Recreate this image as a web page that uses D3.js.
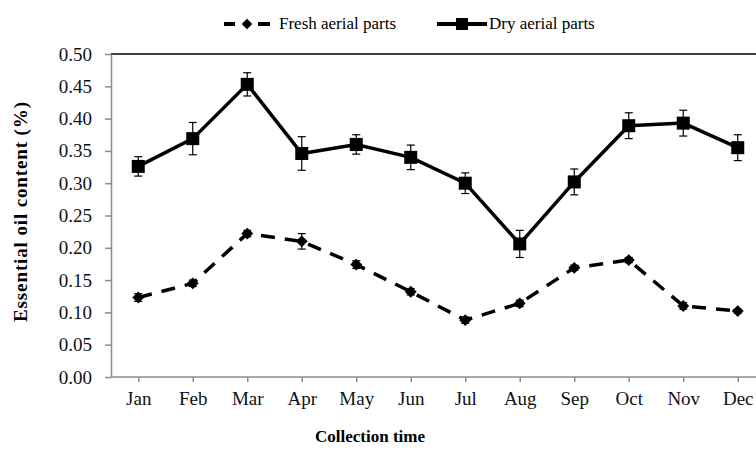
<!DOCTYPE html>
<html>
<head>
<meta charset="utf-8">
<script src="https://cdn.jsdelivr.net/npm/d3@7"></script>
<style>
  body { margin: 0; background: #fff; }
  svg text { font-family: "Liberation Serif", "DejaVu Serif", serif !important; }
</style>
</head>
<body>
<svg id="chart"></svg>
<script>
const months = ["Jan", "Feb", "Mar", "Apr", "May", "Jun", "Jul", "Aug", "Sep", "Oct", "Nov", "Dec"];
const freshValues = [0.123, 0.145, 0.222, 0.210, 0.174, 0.132, 0.088, 0.114, 0.169, 0.181, 0.110, 0.102];
const freshErrors = [0.006, 0.005, 0.005, 0.012, 0.006, 0.005, 0.005, 0.005, 0.004, 0.004, 0.005, 0.003];
const dryValues = [0.326, 0.369, 0.453, 0.346, 0.360, 0.340, 0.300, 0.206, 0.302, 0.389, 0.393, 0.355];
const dryErrors = [0.015, 0.025, 0.018, 0.026, 0.015, 0.019, 0.016, 0.021, 0.020, 0.020, 0.020, 0.020];
const yTicks = [0, 0.05, 0.10, 0.15, 0.20, 0.25, 0.30, 0.35, 0.40, 0.45, 0.50];

const width = 756;
const height = 471;
const margin = { top: 54, left: 111, bottom: 94, right: 0 };
const axisGray = "#8c8c8c";
const serif = "Liberation Serif";

const svg = d3.select("#chart")
    .attr("width", width)
    .attr("height", height);

const x = d3.scalePoint()
    .domain(months)
    .range([margin.left, margin.left + 12 * 54.5])
    .padding(0.5);

const y = d3.scaleLinear()
    .domain([0, 0.5])
    .range([height - margin.bottom, margin.top]);

// top border of plot area
svg.append("line")
    .attr("x1", margin.left).attr("x2", width)
    .attr("y1", y(0.5)).attr("y2", y(0.5))
    .attr("stroke", "#000")
    .attr("stroke-width", 1.5);

// y axis
const yAxis = svg.append("g")
    .attr("transform", "translate(" + margin.left + ",0)")
    .call(d3.axisLeft(y).tickValues(yTicks).tickFormat(d3.format(".2f")).tickSize(6).tickSizeOuter(0))
    .attr("font-family", serif);
yAxis.select(".domain").attr("stroke", axisGray).attr("stroke-width", 1.5);
yAxis.selectAll(".tick line").attr("stroke", axisGray).attr("stroke-width", 1.5);
yAxis.selectAll(".tick text")
    .attr("x", -19)
    .attr("fill", "#111")
    .attr("font-size", "19px");

// x axis
const xAxis = svg.append("g")
    .attr("transform", "translate(0," + y(0) + ")")
    .call(d3.axisBottom(x).tickSize(5).tickSizeOuter(0))
    .attr("font-family", serif);
xAxis.select(".domain")
    .attr("d", "M" + margin.left + ",0H" + width)
    .attr("stroke", axisGray).attr("stroke-width", 1.5);
xAxis.selectAll(".tick line").attr("stroke", axisGray).attr("stroke-width", 1.5);
xAxis.selectAll(".tick text")
    .attr("y", 15)
    .attr("fill", "#111")
    .attr("font-size", "19px");

// axis titles
svg.append("text")
    .attr("transform", "translate(27,212) rotate(-90)")
    .attr("text-anchor", "middle")
    .attr("font-family", serif)
    .attr("font-weight", "bold")
    .attr("font-size", "19px")
    .attr("textLength", 220)
    .attr("lengthAdjust", "spacing")
    .text("Essential oil content (%)");

svg.append("text")
    .attr("x", 370)
    .attr("y", 442)
    .attr("text-anchor", "middle")
    .attr("font-family", serif)
    .attr("font-weight", "bold")
    .attr("font-size", "17px")
    .text("Collection time");

// series
const line = d3.line()
    .x((d, i) => x(months[i]))
    .y(d => y(d));

function errorBars(values, errors) {
    const g = svg.append("g").attr("stroke", "#000").attr("stroke-width", 1.2);
    values.forEach((v, i) => {
        const cx = x(months[i]);
        const top = y(v + errors[i]);
        const bot = y(v - errors[i]);
        g.append("line").attr("x1", cx).attr("x2", cx).attr("y1", top).attr("y2", bot);
        g.append("line").attr("x1", cx - 4).attr("x2", cx + 4).attr("y1", top).attr("y2", top);
        g.append("line").attr("x1", cx - 4).attr("x2", cx + 4).attr("y1", bot).attr("y2", bot);
    });
}

errorBars(freshValues, freshErrors);
errorBars(dryValues, dryErrors);

svg.append("path")
    .datum(freshValues)
    .attr("d", line)
    .attr("fill", "none")
    .attr("stroke", "#000")
    .attr("stroke-width", 3.5)
    .attr("stroke-dasharray", "14,10");

svg.append("path")
    .datum(dryValues)
    .attr("d", line)
    .attr("fill", "none")
    .attr("stroke", "#000")
    .attr("stroke-width", 3.5);

const diamond = d3.symbol().type(d3.symbolDiamond2).size(90);
svg.append("g").selectAll("path")
    .data(freshValues)
    .join("path")
    .attr("transform", (d, i) => "translate(" + x(months[i]) + "," + y(d) + ")")
    .attr("d", diamond)
    .attr("fill", "#000");

svg.append("g").selectAll("rect")
    .data(dryValues)
    .join("rect")
    .attr("x", (d, i) => x(months[i]) - 6.5)
    .attr("y", d => y(d) - 6.5)
    .attr("width", 13)
    .attr("height", 13)
    .attr("fill", "#000");

// legend
const legend = svg.append("g").attr("font-size", "17px").attr("font-family", serif);
const lg1 = legend.append("g").attr("transform", "translate(224,24)");
lg1.append("line").attr("x1", 0).attr("x2", 11).attr("stroke", "#000").attr("stroke-width", 4);
lg1.append("line").attr("x1", 34).attr("x2", 46).attr("stroke", "#000").attr("stroke-width", 4);
lg1.append("path").attr("transform", "translate(23,0)").attr("d", d3.symbol().type(d3.symbolDiamond2).size(70)).attr("fill", "#000");
lg1.append("text").attr("x", 55).attr("y", 5).text("Fresh aerial parts");

const lg2 = legend.append("g").attr("transform", "translate(437,24)");
lg2.append("line").attr("x1", 0).attr("x2", 50).attr("stroke", "#000").attr("stroke-width", 4);
lg2.append("rect").attr("x", 19).attr("y", -6).attr("width", 12).attr("height", 12).attr("fill", "#000");
lg2.append("text").attr("x", 52).attr("y", 5).text("Dry aerial parts");
</script>
</body>
</html>
